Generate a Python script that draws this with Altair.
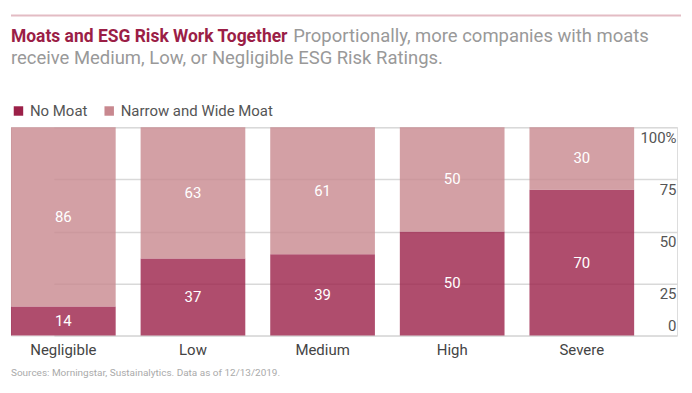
import altair as alt
import pandas as pd

categories = ["Negligible", "Low", "Medium", "High", "Severe"]
no_moat = [14, 37, 39, 50, 70]
narrow_wide = [86, 63, 61, 50, 30]
series_names = ["No Moat", "Narrow and Wide Moat"]
series_colors = ["#9b2048", "#c8888f"]

rows = []
for i, c in enumerate(categories):
    rows.append({"category": c, "series": series_names[0], "value": no_moat[i], "order": 0})
    rows.append({"category": c, "series": series_names[1], "value": narrow_wide[i], "order": 1})
df = pd.DataFrame(rows)

FONT = "Roboto"
W, H = 668, 209

x_enc = alt.X(
    "category:N",
    sort=categories,
    scale=alt.Scale(range=[0, 625], paddingInner=25 / 130, paddingOuter=0),
    axis=alt.Axis(title=None, labelAngle=0, ticks=False, domain=False,
                  labelFontSize=15, labelColor="#444", labelFont=FONT, labelPadding=7),
)

bars = alt.Chart(df).mark_bar(opacity=0.8).encode(
    x=x_enc,
    y=alt.Y(
        "value:Q",
        stack="zero",
        scale=alt.Scale(domain=[0, 100], nice=False),
        axis=alt.Axis(
            title=None, orient="right", values=[0, 25, 50, 75, 100],
            domain=False, ticks=False, grid=True, gridColor="#d9d9d9", gridWidth=1.5,
            labelAlign="right", labelPadding=-1, labelFontSize=15, labelColor="#555",
            labelFont=FONT,
            labelBaseline={"condition": {"test": "datum.value == 0", "value": "bottom"}, "value": "top"},
            labelOffset={"condition": {"test": "datum.value == 0", "value": -2}, "value": 3},
            labelExpr="datum.value == 100 ? '100%' : datum.label",
        ),
    ),
    color=alt.Color(
        "series:N",
        sort=series_names,
        scale=alt.Scale(domain=series_names, range=series_colors),
        legend=alt.Legend(
            title=None, orient="none", legendX=0, legendY=-24, direction="horizontal",
            symbolType="square", symbolSize=90, symbolOpacity=1, symbolStrokeWidth=0,
            labelFontSize=15, labelColor="#555", labelFont=FONT, columnPadding=14,
            symbolOffset=0,
        ),
    ),
    order=alt.Order("order:Q"),
)

labels = alt.Chart(df).transform_stack(
    stack="value", groupby=["category"], as_=["v0", "v1"],
    sort=[alt.SortField("order", order="ascending")],
).transform_calculate(
    mid="(datum.v0 + datum.v1) / 2"
).mark_text(color="white", fontSize=15, font=FONT, baseline="middle").encode(
    x=alt.X("category:N", sort=categories),
    y=alt.Y("mid:Q"),
    text=alt.Text("value:Q"),
)

top_rule = alt.Chart(pd.DataFrame({"a": [0]})).mark_rule(color="#e3bcc4", strokeWidth=2).encode(
    x=alt.value(0), x2=alt.value(672), y=alt.value(-112)
)

title_bold = alt.Chart(pd.DataFrame({"t": ["Moats and ESG Risk Work Together"]})).mark_text(
    align="left", baseline="alphabetic", fontSize=17.5, fontWeight="bold", color="#9b1e46", font=FONT
).encode(text="t:N", x=alt.value(0), y=alt.value(-85))

title_rest1 = alt.Chart(pd.DataFrame({"t": ["Proportionally, more companies with moats"]})).mark_text(
    align="left", baseline="alphabetic", fontSize=18.5, color="#999999", font=FONT
).encode(text="t:N", x=alt.value(283), y=alt.value(-85))

title_rest2 = alt.Chart(pd.DataFrame({"t": ["receive Medium, Low, or Negligible ESG Risk Ratings."]})).mark_text(
    align="left", baseline="alphabetic", fontSize=18.5, color="#999999", font=FONT
).encode(text="t:N", x=alt.value(0), y=alt.value(-63))

source = alt.Chart(pd.DataFrame({"t": ["Sources: Morningstar, Sustainalytics. Data as of 12/13/2019."]})).mark_text(
    align="left", baseline="middle", fontSize=10, color="#aaaaaa", font=FONT
).encode(text="t:N", x=alt.value(0), y=alt.value(H + 38))

chart = alt.layer(bars, labels, top_rule, title_bold, title_rest1, title_rest2, source).properties(
    width=W, height=H,
    padding={"left": 2, "top": 6, "right": 2, "bottom": 4},
).configure_view(stroke=None).configure(font=FONT)

chart.save("out.html", embed_options={"renderer": "svg", "actions": False})
